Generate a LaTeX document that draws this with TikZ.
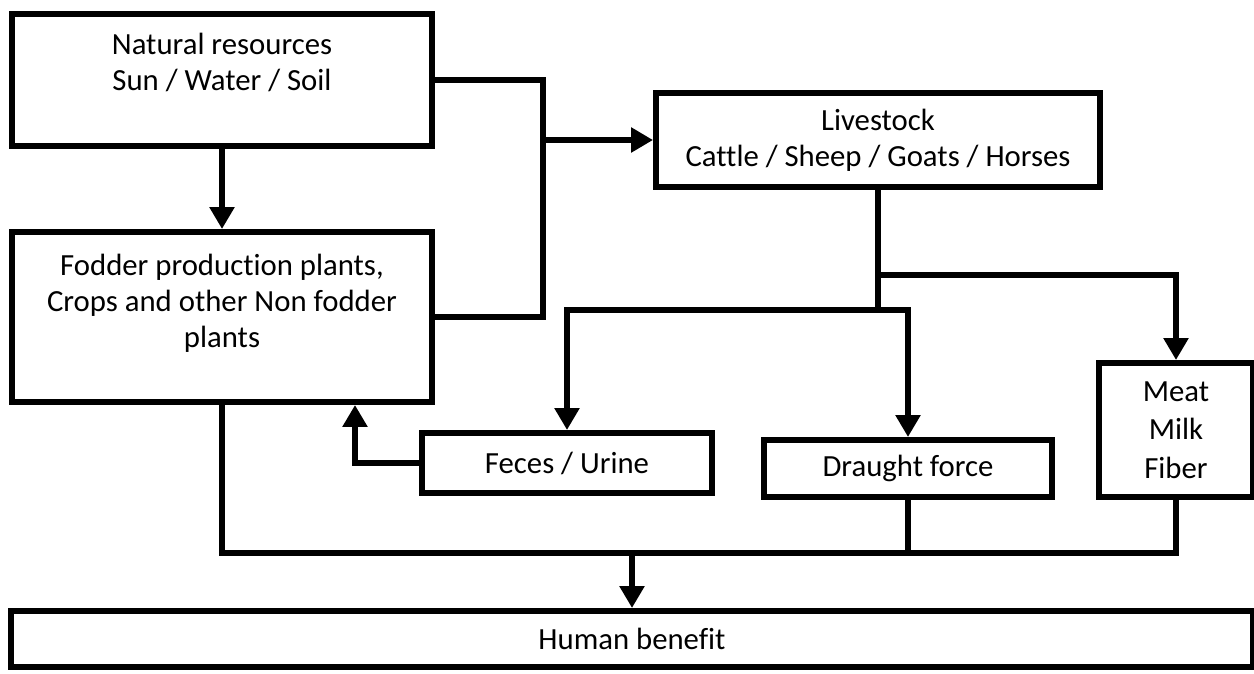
\documentclass[tikz,border=0pt]{standalone}
\usepackage{fontspec}
\setmainfont{Carlito}[Ligatures=NoCommon]
\usepackage{xcolor}
\usetikzlibrary{arrows.meta}
\definecolor{ink}{RGB}{0,0,0}
\tikzstyle{box}=[draw=ink, rectangle, line width=1.2mm, fill=white, align=center, inner sep=0pt]
\tikzset{flow/.style={line width=1.2mm, color=ink}}
\tikzstyle{feed}=[-{Triangle[length=0.44cm,width=0.48cm]}, flow]

\begin{document}
\begin{tikzpicture}[x=0.02cm, y=-0.02cm, font=\fontsize{17.5}{20.5}\selectfont]
  \useasboundingbox (0,0) rectangle (1254,673);

  \draw (222,80) node[box, minimum width=8.4cm, minimum height=2.64cm] (nr) {};
  \draw (222,62) node[align=center] (nrtext) {Natural resources\\Sun / Water / Soil};
  \draw (222,317) node[box, minimum width=8.4cm, minimum height=3.4cm] (fodder) {};
  \draw (222,303) node[align=center] (foddertext) {Fodder production plants,\\Crops and other Non fodder\\plants};
  \draw (878,140) node[box, minimum width=8.88cm, minimum height=1.88cm] (live) {Livestock\\Cattle / Sheep / Goats / Horses};

  \draw (567,463) node[box, minimum width=5.8cm, minimum height=1.2cm] (feces) {Feces / Urine};
  \draw (908,468.5) node[box, minimum width=5.76cm, minimum height=1.14cm] (draught) {Draught force};
  \draw (1176,430) node[box, minimum width=3.08cm, minimum height=2.68cm, font=\fontsize{17.5}{22}\selectfont] (meat) {Meat\\Milk\\Fiber};

  \draw (632,639) node[box, minimum width=24.84cm, minimum height=1.12cm] (human) {Human benefit};

  %% junctions
  \coordinate (jA) at (543,140);
  \coordinate (jB) at (878,275);
  \coordinate (jC) at (878,310);
  \coordinate (jD) at (355,463);
  \coordinate (jE) at (632,553);

  \draw[feed] (nr) -- (fodder);
  \draw[flow] (nr.east) -| (jA) |- (fodder.east);
  \draw[feed] (jA) -- (live.west);

  \draw[flow] (live.south) -- (jC);
  \draw[feed] (jB) -| (meat.north);
  \draw[feed] (jC) -| (feces.north);
  \draw[feed] (jC) -| (draught.north);
  \draw[feed] (feces.west) -| (jD |- fodder.south);

  \draw[flow] (fodder.south) |- (jE) -| (meat.south);
  \draw[flow] (draught.south) -- (draught.south |- jE);
  \draw[feed] (jE) -- (human.north);
\end{tikzpicture}
\end{document}
